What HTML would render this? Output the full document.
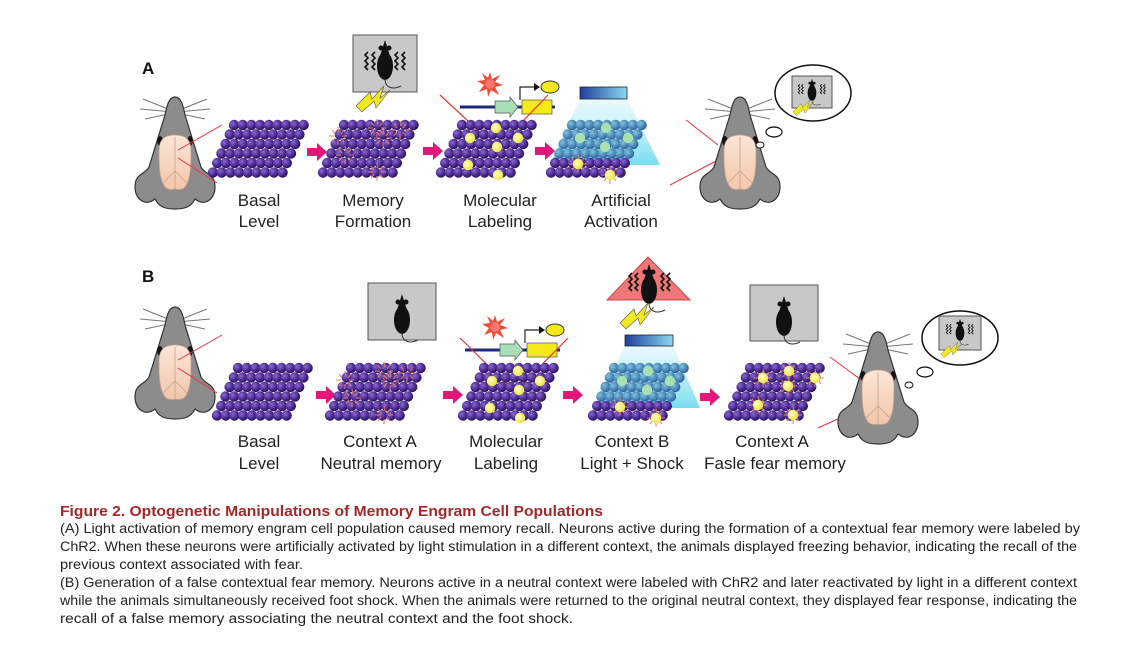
<!DOCTYPE html>
<html><head><meta charset="utf-8"><style>html,body{margin:0;padding:0;background:#fff}svg{display:block}</style></head>
<body>
<svg width="1130" height="646" viewBox="0 0 1130 646" xmlns="http://www.w3.org/2000/svg" font-family="Liberation Sans, Arial, sans-serif">
<defs>
<radialGradient id="pg" cx="0.35" cy="0.35" r="0.7"><stop offset="0" stop-color="#8a6ad0"/><stop offset="0.6" stop-color="#4b2a92"/><stop offset="1" stop-color="#26124f"/></radialGradient>
<radialGradient id="bg" cx="0.35" cy="0.35" r="0.7"><stop offset="0" stop-color="#7fc4e0"/><stop offset="1" stop-color="#2a5e9a"/></radialGradient>
<radialGradient id="yg" cx="0.4" cy="0.4" r="0.7"><stop offset="0" stop-color="#ffffc0"/><stop offset="1" stop-color="#e8e030"/></radialGradient>
<linearGradient id="bar" x1="0" x2="1"><stop offset="0" stop-color="#1f3f9a"/><stop offset="1" stop-color="#8ad8f0"/></linearGradient>
<linearGradient id="cone" x1="0" y1="0" x2="0" y2="1"><stop offset="0" stop-color="#d8f4fb" stop-opacity="0.5"/><stop offset="1" stop-color="#5fd6ee" stop-opacity="0.85"/></linearGradient>
<linearGradient id="brain" x1="0" y1="0" x2="0" y2="1"><stop offset="0" stop-color="#fbe6d8"/><stop offset="1" stop-color="#f2c6aa"/></linearGradient>
<g id="row"><circle cx="0" cy="0" r="5.2" fill="url(#pg)"/><circle cx="8.7" cy="0" r="5.2" fill="url(#pg)"/><circle cx="17.4" cy="0" r="5.2" fill="url(#pg)"/><circle cx="26.1" cy="0" r="5.2" fill="url(#pg)"/><circle cx="34.8" cy="0" r="5.2" fill="url(#pg)"/><circle cx="43.5" cy="0" r="5.2" fill="url(#pg)"/><circle cx="52.2" cy="0" r="5.2" fill="url(#pg)"/><circle cx="60.9" cy="0" r="5.2" fill="url(#pg)"/><circle cx="69.6" cy="0" r="5.2" fill="url(#pg)"/></g>
<g id="browb"><circle cx="0" cy="0" r="5.2" fill="url(#bg)"/><circle cx="8.7" cy="0" r="5.2" fill="url(#bg)"/><circle cx="17.4" cy="0" r="5.2" fill="url(#bg)"/><circle cx="26.1" cy="0" r="5.2" fill="url(#bg)"/><circle cx="34.8" cy="0" r="5.2" fill="url(#bg)"/><circle cx="43.5" cy="0" r="5.2" fill="url(#bg)"/><circle cx="52.2" cy="0" r="5.2" fill="url(#bg)"/><circle cx="60.9" cy="0" r="5.2" fill="url(#bg)"/><circle cx="69.6" cy="0" r="5.2" fill="url(#bg)"/></g>
<g id="grid">
<use href="#row" x="26" y="5"/><use href="#row" x="21.8" y="14.5"/><use href="#row" x="17.6" y="24"/><use href="#row" x="13.4" y="33.5"/><use href="#row" x="9.2" y="43"/><use href="#row" x="5" y="52.5"/>
</g>
<g id="gridb">
<use href="#browb" x="26" y="5"/><use href="#browb" x="21.8" y="14.5"/><use href="#browb" x="17.6" y="24"/><use href="#browb" x="13.4" y="33.5"/><use href="#row" x="9.2" y="43"/><use href="#row" x="5" y="52.5"/>
</g>
<g id="star"><path d="M0,-9 L1,-4 M6,-6 L3,-2 M9,0 L4,0 M6,6 L3,2 M0,9 L0,4 M-6,6 L-3,2 M-9,0 L-4,0 M-6,-6 L-3,-2" stroke="#f08060" stroke-width="1.3" opacity="0.8"/></g>
<g id="ycell"><use href="#star"/><circle r="5.2" fill="url(#yg)"/></g>
<g id="mouse">
<g stroke="#777" stroke-width="1"><line x1="38" y1="16" x2="8" y2="4"/><line x1="38" y1="17" x2="5" y2="14"/><line x1="38" y1="18" x2="10" y2="24"/><line x1="42" y1="16" x2="72" y2="4"/><line x1="42" y1="17" x2="75" y2="14"/><line x1="42" y1="18" x2="70" y2="24"/></g>
<path d="M40,2 C46,2 48,10 50,20 L66,72 C70,80 80,78 80,92 C80,104 70,112 60,104 C56,112 50,114 40,114 C30,114 24,112 20,104 C10,112 0,104 0,92 C0,78 10,80 14,72 L30,20 C32,10 34,2 40,2Z" fill="#8c8c8c" stroke="#333" stroke-width="1.2"/>
<ellipse cx="25" cy="46" rx="2.8" ry="5" fill="#111"/><ellipse cx="55" cy="46" rx="2.8" ry="5" fill="#111"/>
<path d="M40,40 C30,40 24,44 24,56 C24,70 24,84 30,92 C34,96 40,94 40,94 C40,94 46,96 50,92 C56,84 56,70 56,56 C56,44 50,40 40,40Z" fill="url(#brain)" stroke="#c9a08a" stroke-width="0.8"/>
<path d="M40,42 L40,94 M40,76 L28,88 M40,76 L52,88" stroke="#c9a08a" stroke-width="0.8" fill="none"/>
</g>
<g id="rat"><ellipse cx="0" cy="20" rx="8" ry="14" fill="#111"/><path d="M-5,10 L0,-6 L5,10Z" fill="#111"/><circle cx="-4" cy="2" r="2.5" fill="#111"/><circle cx="4" cy="2" r="2.5" fill="#111"/><path d="M0,33 C0,42 8,44 16,40" stroke="#333" fill="none" stroke-width="1"/></g>
<g id="wav"><path d="M0,0 l-3,3 l3,3 l-3,3 l3,3 l-3,3 l3,3" stroke="#111" stroke-width="1.6" fill="none"/></g>
<g id="bolt"><path d="M0,20 L14,6 L16,13 L28,0 L24,12 L34,4 L20,22 L18,15 L6,26Z" fill="#f2e820" stroke="#555" stroke-width="0.6"/></g>
<g id="parrow"><path d="M0,-4 L10,-4 L10,-9 L20,0 L10,9 L10,4 L0,4Z" fill="#e3167a"/></g>
<g id="gene">
<line x1="-30" y1="20" x2="65" y2="20" stroke="#1c2a7a" stroke-width="3"/>
<path d="M5,14 L20,14 L20,10 L28,20 L20,30 L20,26 L5,26Z" fill="#a9dfb6" stroke="#555" stroke-width="0.7"/>
<rect x="32" y="13" width="30" height="14" fill="#f4ea1a" stroke="#555" stroke-width="0.7"/>
<path d="M30,13 L30,0 L44,0" stroke="#222" fill="none" stroke-width="1.2"/><path d="M44,-4 L50,0 L44,4Z" fill="#111"/>
<ellipse cx="60" cy="0" rx="9" ry="6" fill="#f4ea1a" stroke="#333" stroke-width="1"/>
<g transform="translate(0,-3)"><path d="M0,-12 L2,-5 L10,-9 L5,-2 L13,1 L5,3 L9,11 L1,6 L-2,13 L-3,5 L-11,8 L-6,1 L-13,-3 L-5,-4 L-8,-11 L-2,-6Z" fill="#f04a30"/><circle r="5" fill="#f88" opacity="0.7"/></g>
</g>
</defs>

<!-- PANEL A -->
<text x="142" y="74" font-size="17" font-weight="bold" fill="#111">A</text>
<use href="#mouse" x="135" y="95"/>
<line x1="222" y1="125" x2="178" y2="150" stroke="#e34" stroke-width="1"/>
<line x1="217" y1="183" x2="178" y2="158" stroke="#e34" stroke-width="1"/>
<use href="#grid" x="208" y="120"/>
<use href="#parrow" x="307" y="152"/>
<rect x="353" y="35" width="64" height="57" fill="#c8c8c8" stroke="#555"/>
<use href="#rat" x="385" y="46"/><use href="#wav" x="368" y="52"/><use href="#wav" x="375" y="52"/><use href="#wav" x="398" y="52"/><use href="#wav" x="405" y="52"/>
<use href="#bolt" x="356" y="86"/>
<use href="#grid" x="318" y="120"/>
<use href="#star" x="377" y="128"/><use href="#star" x="338" y="136"/><use href="#star" x="383" y="138"/><use href="#star" x="345" y="155"/><use href="#star" x="377" y="172"/><use href="#star" x="400" y="130"/>
<use href="#parrow" x="423" y="151"/>
<use href="#gene" x="490" y="87"/>
<line x1="440" y1="95" x2="497" y2="148" stroke="#e33" stroke-width="1.2"/><line x1="497" y1="148" x2="548" y2="95" stroke="#e33" stroke-width="1.2"/>
<use href="#grid" x="436" y="120"/>
<circle cx="496" cy="128" r="5.2" fill="url(#yg)"/><circle cx="518" cy="138" r="5.2" fill="url(#yg)"/><circle cx="497" cy="147" r="5.2" fill="url(#yg)"/><circle cx="468" cy="165" r="5.2" fill="url(#yg)"/><circle cx="498" cy="175" r="5.2" fill="url(#yg)"/><circle cx="470" cy="138" r="5.2" fill="url(#yg)"/>
<use href="#parrow" x="535" y="151"/>
<polygon points="580,99 627,99 660,165 550,165" fill="url(#cone)"/>
<rect x="580" y="87" width="47" height="12" fill="url(#bar)" stroke="#223" stroke-width="0.8"/>
<use href="#gridb" x="546" y="120"/>
<circle cx="606" cy="128" r="5.2" fill="#a8e0b0"/><circle cx="628" cy="138" r="5.2" fill="#a8e0b0"/><circle cx="605" cy="147" r="5.2" fill="#a8e0b0"/><circle cx="580" cy="138" r="5.2" fill="#a8e0b0"/>
<use href="#ycell" x="578" y="164"/><use href="#ycell" x="610" y="175"/>
<g font-size="17" fill="#222" text-anchor="middle">
<text x="259" y="206">Basal</text><text x="259" y="227">Level</text>
<text x="373" y="206">Memory</text><text x="373" y="227">Formation</text>
<text x="500" y="206">Molecular</text><text x="500" y="227">Labeling</text>
<text x="621" y="206">Artificial</text><text x="621" y="227">Activation</text>
</g>
<line x1="686" y1="120" x2="718" y2="145" stroke="#e34" stroke-width="1"/>
<line x1="670" y1="185" x2="718" y2="160" stroke="#e34" stroke-width="1"/>
<use href="#mouse" x="700" y="95"/>
<ellipse cx="813" cy="93" rx="38" ry="28" fill="#fff" stroke="#111" stroke-width="1.5"/>
<ellipse cx="774" cy="132" rx="8" ry="5" fill="#fff" stroke="#111" stroke-width="1.2"/>
<ellipse cx="760" cy="145" rx="4" ry="3" fill="#fff" stroke="#111" stroke-width="1"/>
<rect x="792" y="76" width="40" height="32" fill="#c8c8c8" stroke="#555"/>
<g transform="translate(812,82) scale(0.55)"><use href="#rat"/><use href="#wav" x="-22" y="4"/><use href="#wav" x="-16" y="4"/><use href="#wav" x="18" y="4"/><use href="#wav" x="24" y="4"/></g>
<g transform="translate(793,100) scale(0.6)"><use href="#bolt"/></g>

<!-- PANEL B -->
<text x="142" y="282" font-size="17" font-weight="bold" fill="#111">B</text>
<use href="#mouse" x="135" y="305"/>
<line x1="222" y1="335" x2="178" y2="360" stroke="#e34" stroke-width="1"/>
<line x1="217" y1="393" x2="178" y2="368" stroke="#e34" stroke-width="1"/>
<use href="#grid" x="212" y="363"/>
<use href="#parrow" x="316" y="395"/>
<rect x="368" y="283" width="68" height="57" fill="#c8c8c8" stroke="#555"/>
<use href="#rat" x="402" y="300"/>
<use href="#grid" x="325" y="363"/>
<use href="#star" x="384" y="371"/><use href="#star" x="345" y="380"/><use href="#star" x="390" y="381"/><use href="#star" x="352" y="398"/><use href="#star" x="384" y="415"/><use href="#star" x="407" y="373"/>
<use href="#parrow" x="443" y="395"/>
<use href="#gene" x="495" y="330"/>
<line x1="460" y1="338" x2="515" y2="392" stroke="#e33" stroke-width="1.2"/><line x1="515" y1="392" x2="568" y2="338" stroke="#e33" stroke-width="1.2"/>
<use href="#grid" x="458" y="363"/>
<circle cx="518" cy="371" r="5.2" fill="url(#yg)"/><circle cx="540" cy="381" r="5.2" fill="url(#yg)"/><circle cx="519" cy="390" r="5.2" fill="url(#yg)"/><circle cx="490" cy="408" r="5.2" fill="url(#yg)"/><circle cx="520" cy="418" r="5.2" fill="url(#yg)"/><circle cx="492" cy="381" r="5.2" fill="url(#yg)"/>
<use href="#parrow" x="563" y="395"/>
<polygon points="607,300 690,300 648,257" fill="#ee7777" stroke="#c44" stroke-width="1"/>
<use href="#rat" x="649" y="270"/>
<use href="#wav" x="632" y="273"/><use href="#wav" x="638" y="273"/><use href="#wav" x="664" y="273"/><use href="#wav" x="670" y="273"/>
<use href="#bolt" x="620" y="303"/>
<polygon points="625,345 673,345 700,408 596,408" fill="url(#cone)"/>
<rect x="625" y="335" width="48" height="11" fill="url(#bar)" stroke="#223" stroke-width="0.8"/>
<use href="#gridb" x="588" y="363"/>
<circle cx="648" cy="371" r="5.2" fill="#a8e0b0"/><circle cx="670" cy="381" r="5.2" fill="#a8e0b0"/><circle cx="647" cy="390" r="5.2" fill="#a8e0b0"/><circle cx="622" cy="381" r="5.2" fill="#a8e0b0"/>
<use href="#ycell" x="620" y="407"/><use href="#ycell" x="656" y="418"/>
<use href="#parrow" x="700" y="397"/>
<rect x="750" y="285" width="68" height="56" fill="#c8c8c8" stroke="#555"/>
<use href="#rat" x="784" y="302"/>
<use href="#grid" x="724" y="363"/>
<use href="#ycell" x="789" y="371"/><use href="#ycell" x="763" y="378"/><use href="#ycell" x="815" y="378"/><use href="#ycell" x="788" y="386"/><use href="#ycell" x="758" y="405"/><use href="#ycell" x="793" y="415"/>
<line x1="830" y1="357" x2="875" y2="390" stroke="#e34" stroke-width="1"/>
<line x1="818" y1="428" x2="875" y2="402" stroke="#e34" stroke-width="1"/>
<use href="#mouse" x="838" y="330"/>
<ellipse cx="960" cy="338" rx="38" ry="27" fill="#fff" stroke="#111" stroke-width="1.5"/>
<ellipse cx="925" cy="372" rx="8" ry="5" fill="#fff" stroke="#111" stroke-width="1.2"/>
<ellipse cx="909" cy="385" rx="4" ry="3" fill="#fff" stroke="#111" stroke-width="1"/>
<rect x="939" y="316" width="42" height="34" fill="#c8c8c8" stroke="#555"/>
<g transform="translate(960,322) scale(0.55)"><use href="#rat"/><use href="#wav" x="-22" y="4"/><use href="#wav" x="-16" y="4"/><use href="#wav" x="18" y="4"/><use href="#wav" x="24" y="4"/></g>
<g transform="translate(941,342) scale(0.6)"><use href="#bolt"/></g>
<g font-size="17" fill="#222" text-anchor="middle">
<text x="259" y="447">Basal</text><text x="259" y="469">Level</text>
<text x="380" y="447">Context A</text><text x="381" y="469">Neutral memory</text>
<text x="506" y="447">Molecular</text><text x="506" y="469">Labeling</text>
<text x="632" y="447">Context B</text><text x="632" y="469">Light + Shock</text>
<text x="772" y="447">Context A</text><text x="775" y="469">Fasle fear memory</text>
</g>

<!-- CAPTION -->
<text x="60" y="516" font-size="14.5" font-weight="bold" fill="#a3282c" textLength="543" lengthAdjust="spacingAndGlyphs">Figure 2.  Optogenetic Manipulations of Memory Engram Cell Populations</text>
<g font-size="13.5" fill="#222">
<text x="60" y="533" textLength="1020" lengthAdjust="spacingAndGlyphs">(A) Light activation of memory engram cell population caused memory recall. Neurons active during the formation of a contextual fear memory were labeled by</text>
<text x="60" y="551" textLength="1017" lengthAdjust="spacingAndGlyphs">ChR2. When these neurons were artificially activated by light stimulation in a different context, the animals displayed freezing behavior, indicating the recall of the</text>
<text x="60" y="569" textLength="243" lengthAdjust="spacingAndGlyphs">previous context associated with fear.</text>
<text x="60" y="587" textLength="1017" lengthAdjust="spacingAndGlyphs">(B) Generation of a false contextual fear memory. Neurons active in a neutral context were labeled with ChR2 and later reactivated by light in a different context</text>
<text x="60" y="605" textLength="1017" lengthAdjust="spacingAndGlyphs">while the animals simultaneously received foot shock. When the animals were returned to the original neutral context, they displayed fear response, indicating the</text>
<text x="60" y="623" textLength="513" lengthAdjust="spacingAndGlyphs">recall of a false memory associating the neutral context and the foot shock.</text>
</g>
</svg>
</body></html>
